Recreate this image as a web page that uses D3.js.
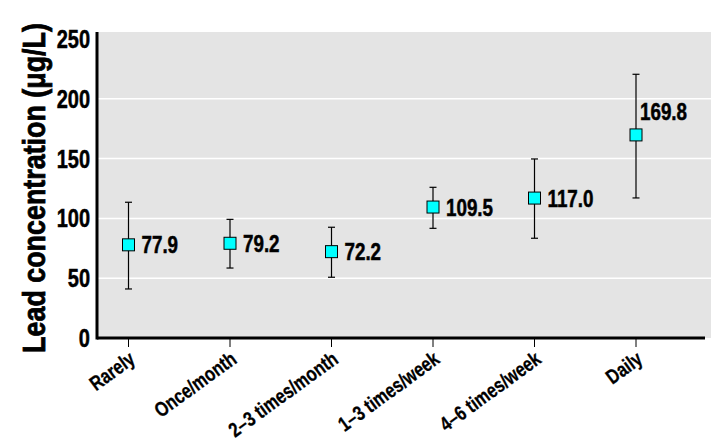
<!DOCTYPE html>
<html lang="en">
<head>
<meta charset="UTF-8">
<title>Lead concentration by frequency</title>
<style>
  body { margin: 0; background: #fff; }
  svg { display: block; }
  text { font-family: "Liberation Sans", Arial, sans-serif; font-weight: bold; fill: #000; stroke: #000; stroke-width: 0.5px; }
</style>
<script src="https://d3js.org/d3.v7.min.js"></script>
</head>
<body>
<script>
// data
const categories = ["Rarely", "Once/month", "2\u20133 times/month", "1\u20133 times/week", "4\u20136 times/week", "Daily"];
const means = [77.9, 79.2, 72.2, 109.5, 117.0, 169.8];
const lower = [41.0, 58.5, 50.8, 91.7, 83.4, 117.1];
const upper = [113.5, 99.2, 92.6, 126.0, 149.7, 220.5];
const yTicks = [0, 50, 100, 150, 200, 250];

const width = 724, height = 442;
const squeeze = 0.8; // condensed look of the original typeface

const svg = d3.select("body").append("svg")
  .attr("width", width)
  .attr("height", height);

const x = d3.scalePoint().domain(categories).range([128.5, 636]);
const y = d3.scaleLinear().domain([0, 250]).range([338, 39]);

const plotLeft = 97, plotRight = 711, plotTop = 32;

// grey plot background
svg.append("rect")
  .attr("x", plotLeft)
  .attr("y", plotTop)
  .attr("width", plotRight - plotLeft)
  .attr("height", y(0) - plotTop)
  .attr("fill", "#e4e4e4");

// white grid lines
svg.selectAll(".grid")
  .data(yTicks.filter(d => d > 0 && d < 250))
  .enter().append("line")
  .attr("x1", plotLeft).attr("x2", plotRight)
  .attr("y1", d => y(d)).attr("y2", d => y(d))
  .attr("stroke", "#fff").attr("stroke-width", 1.5);

// y axis labels
svg.selectAll(".ytick")
  .data(yTicks)
  .enter().append("text")
  .attr("transform", d => `translate(90,${y(d)}) scale(${squeeze},1)`)
  .attr("dy", "0.36em")
  .attr("text-anchor", "end")
  .style("font-size", "25px")
  .text(d => d);

// axes lines
svg.append("line")
  .attr("x1", plotLeft).attr("x2", plotLeft)
  .attr("y1", plotTop).attr("y2", y(0) + 1.5)
  .attr("stroke", "#000").attr("stroke-width", 3);
svg.append("line")
  .attr("x1", plotLeft).attr("x2", 705)
  .attr("y1", y(0)).attr("y2", y(0))
  .attr("stroke", "#000").attr("stroke-width", 3);

// x ticks and labels
const xt = svg.selectAll(".xtick")
  .data(categories)
  .enter().append("g")
  .attr("transform", d => `translate(${x(d)},${y(0)})`);
xt.append("line")
  .attr("y1", 1).attr("y2", 9)
  .attr("stroke", "#000").attr("stroke-width", 1);
xt.append("text")
  .attr("transform", `translate(8,24) rotate(-36) scale(${squeeze},1)`)
  .attr("text-anchor", "end")
  .style("font-size", "20.5px")
  .style("stroke-width", "0.3px")
  .text(d => d);

// y axis title, squeezed to the same span as the original
const title = svg.append("text")
  .attr("text-anchor", "middle")
  .style("font-size", "32px")
  .style("stroke-width", "0.8px")
  .text("Lead concentration (\u03bcg/L)");
const titleScale = 330 / title.node().getComputedTextLength();
title.attr("transform", `translate(45,188) rotate(-90) scale(${titleScale},1)`);

// error bars
const pts = categories.map((c, i) => ({ c, m: means[i], lo: lower[i], hi: upper[i] }));
const eb = svg.selectAll(".eb")
  .data(pts)
  .enter().append("g")
  .attr("transform", d => `translate(${x(d.c)},0)`);
eb.append("line")
  .attr("y1", d => y(d.lo)).attr("y2", d => y(d.hi))
  .attr("stroke", "#000").attr("stroke-width", 1.2);
eb.append("line")
  .attr("x1", -3.5).attr("x2", 3.5)
  .attr("y1", d => y(d.hi)).attr("y2", d => y(d.hi))
  .attr("stroke", "#000").attr("stroke-width", 1.2);
eb.append("line")
  .attr("x1", -3.5).attr("x2", 3.5)
  .attr("y1", d => y(d.lo)).attr("y2", d => y(d.lo))
  .attr("stroke", "#000").attr("stroke-width", 1.2);
eb.append("rect")
  .attr("x", -6).attr("y", d => y(d.m) - 6)
  .attr("width", 12).attr("height", 12)
  .attr("fill", "#00ffff").attr("stroke", "#000").attr("stroke-width", 1);
eb.append("text")
  .attr("transform", (d, i) => {
    const last = i === pts.length - 1;
    return `translate(${last ? 4 : 13},${y(d.m) + (last ? -23 : 0)}) scale(${squeeze},1)`;
  })
  .attr("dy", "0.36em")
  .style("font-size", "23.5px")
  .text(d => d.m.toFixed(1));
</script>
</body>
</html>
